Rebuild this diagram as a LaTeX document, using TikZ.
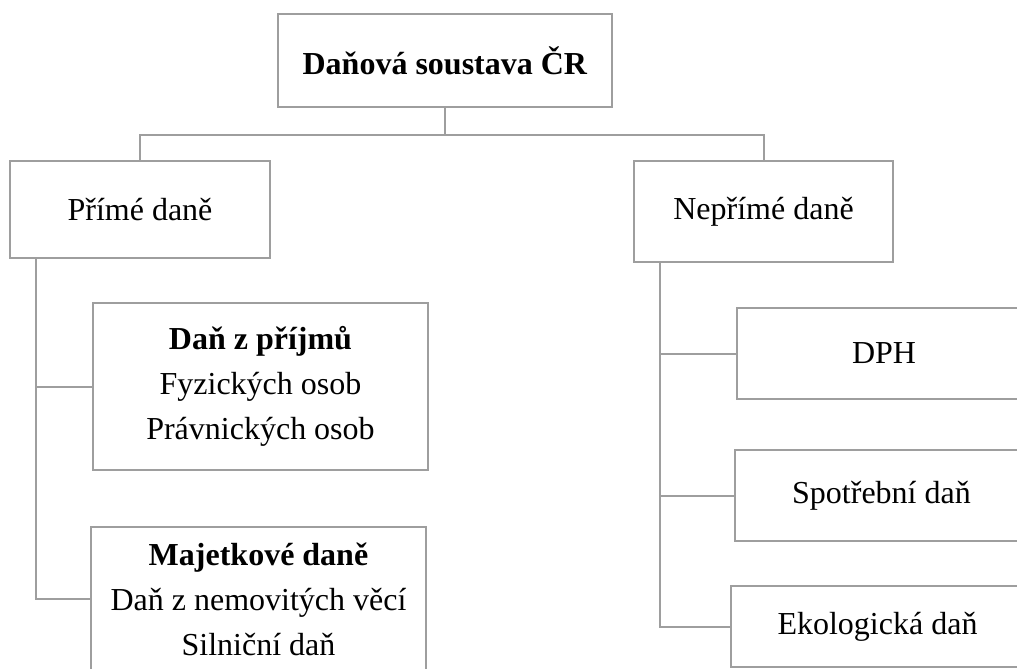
\documentclass[tikz,border=0pt]{standalone}
\usepackage{fontspec}
\setmainfont{Liberation Serif}
\usetikzlibrary{calc}
\definecolor{boxgray}{RGB}{158,158,158}
\tikzset{
  box/.style={draw=boxgray, line width=2pt, rectangle, outer sep=0pt, inner sep=0pt,
    align=center, font=\fontsize{32}{45}\selectfont, fill=white},
  conn/.style={draw=boxgray, line width=2pt}
}
\begin{document}
\begin{tikzpicture}[x=1pt,y=-1pt]
\useasboundingbox (0,0) rectangle (1017,669);
\clip (0,0) rectangle (1017,669);
\node[box, minimum width=334pt, minimum height=93pt] (top) at (445,60.5) {\textbf{Daňová soustava ČR}};
\node[box, minimum width=260pt, minimum height=97pt] (pd) at (140,209.5) {Přímé daně};
\node[box, minimum width=259pt, minimum height=101pt] (nd) at (763.5,211.5) {Nepřímé daně};
\node[box, minimum width=335pt, minimum height=167pt] (pri) at (260.5,386.5) {\textbf{Daň z příjmů}\\Fyzických osob\\Právnických osob};
\node[box, minimum width=335pt, minimum height=144pt] (maj) at (258.5,599) {\textbf{Majetkové daně}\\Daň z nemovitých věcí\\Silniční daň};
\node[box, minimum width=294pt, minimum height=91pt] (dph) at (884,353.5) {DPH};
\node[box, minimum width=293pt, minimum height=91pt] (spo) at (881.5,495.5) {Spotřební daň};
\node[box, minimum width=293pt, minimum height=81pt] (eko) at (877.5,626.5) {Ekologická daň};
\coordinate (split) at ($(top.south)+(0,28)$);
\draw[conn] (top.south) -- (split) -| (pd.north);
\draw[conn] (split) -| (nd.north);
\coordinate (lt) at ($(pd.south west)+(26,0)$);
\draw[conn] (lt) |- (pri.west);
\draw[conn] (lt) |- (maj.west);
\coordinate (rt) at ($(nd.south west)+(26,0)$);
\draw[conn] (rt) |- (dph.west);
\draw[conn] (rt) |- (spo.west);
\draw[conn] (rt) |- (eko.west);
\end{tikzpicture}
\end{document}
